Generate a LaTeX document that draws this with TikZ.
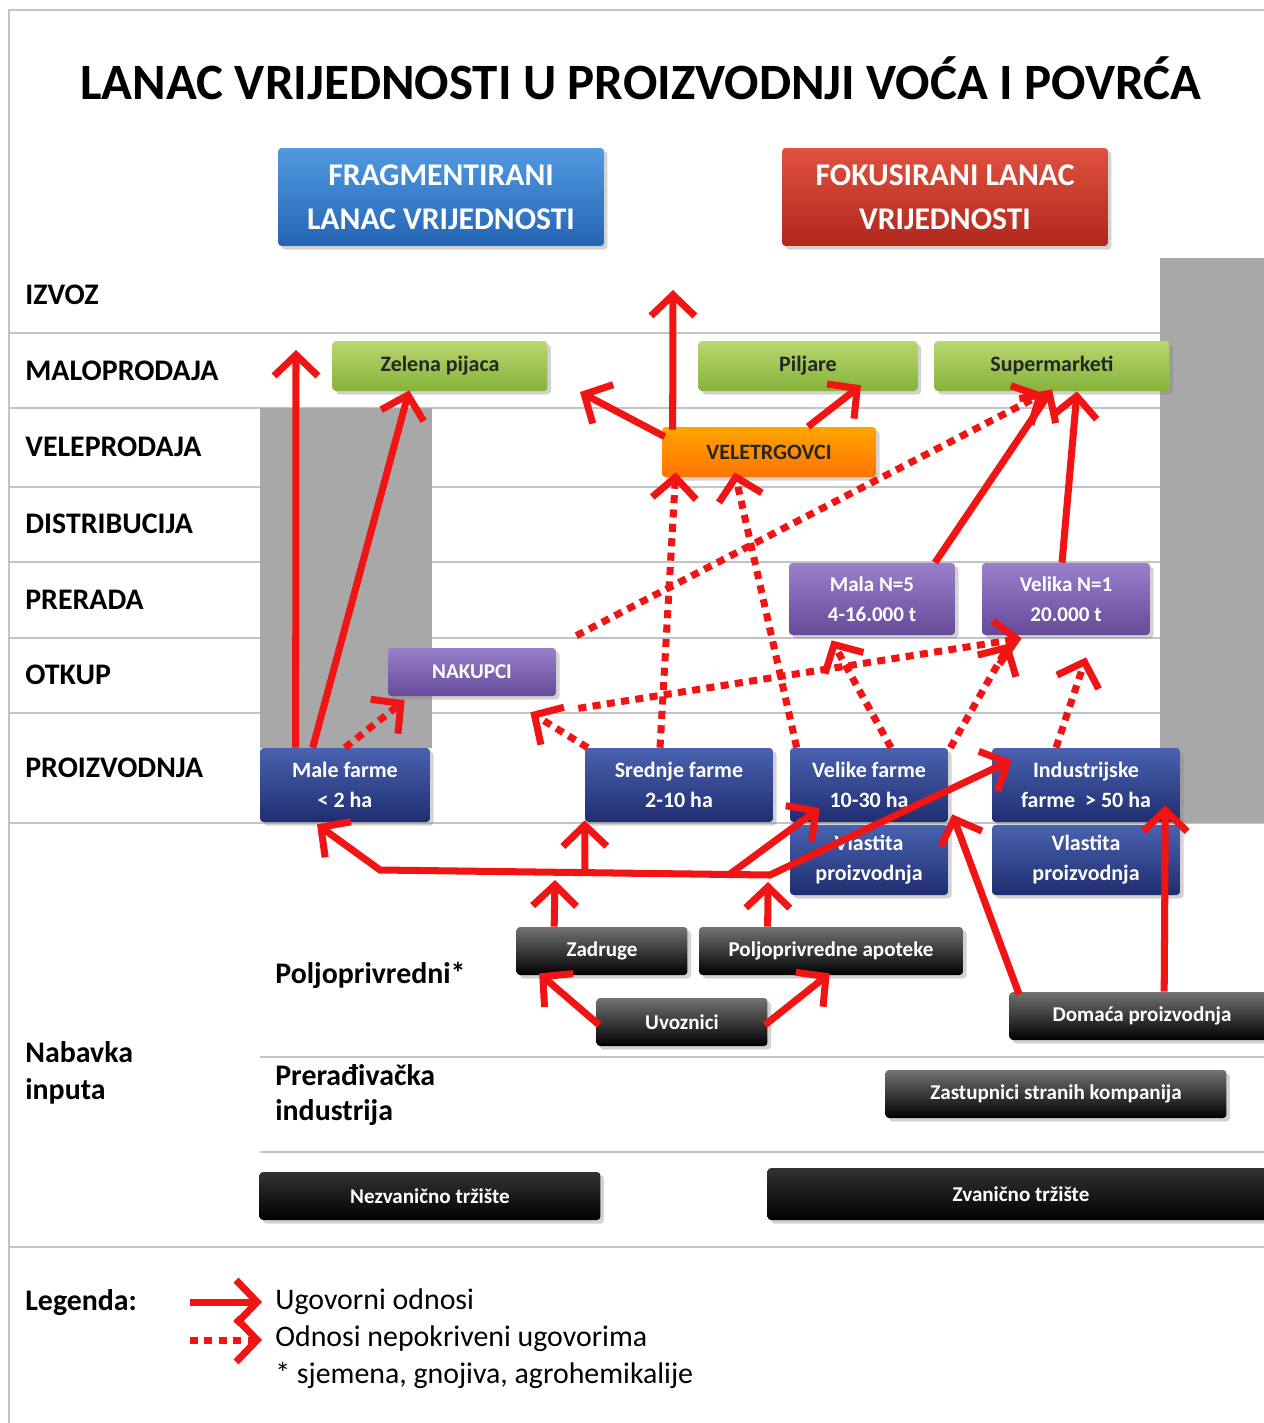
\documentclass[tikz,border=0pt]{standalone}
\usepackage{fontspec}
\setmainfont{Carlito}
\usetikzlibrary{arrows.meta,calc,shadows}

\definecolor{arrred}{HTML}{F01414}
\definecolor{gridgray}{HTML}{C4C4C4}
\definecolor{blockgray}{HTML}{A8A8A8}
\definecolor{farmtop}{HTML}{4A62B0}
\definecolor{farmbot}{HTML}{1F2D70}
\definecolor{purptop}{HTML}{9A80CC}
\definecolor{purpbot}{HTML}{67499A}
\definecolor{greentop}{HTML}{B8D870}
\definecolor{greenbot}{HTML}{86B23A}
\definecolor{hbluetop}{HTML}{519ADF}
\definecolor{hbluebot}{HTML}{2464B5}
\definecolor{hredtop}{HTML}{E0513F}
\definecolor{hredbot}{HTML}{B0271C}

\newcommand\titlefont{\fontsize{29}{34}\selectfont\bfseries}
\newcommand\headfont{\fontsize{18}{25}\selectfont\bfseries}
\newcommand\rowfont{\fontsize{17}{21}\selectfont\bfseries}
\newcommand\boxfont{\fontsize{12.5}{17}\selectfont\bfseries}
\newcommand\smallboxfont{\fontsize{12}{17}\selectfont\bfseries}
\newcommand\legfont{\fontsize{17}{21}\selectfont}

\tikzset{
  box/.style={rounded corners=2pt, inner sep=2pt, align=center, font=\boxfont,
    drop shadow={opacity=0.35, shadow xshift=2pt, shadow yshift=-2pt}},
  headbox/.style={box, font=\headfont, text=white, minimum width=6.52cm, minimum height=1.96cm},
  greenbox/.style={box, top color=greentop, bottom color=greenbot, text=black!85, minimum height=1.0cm},
  orangebox/.style={box, top color=orange!70!yellow, bottom color=orange!90!red, text=black!85, minimum height=1.0cm},
  purplebox/.style={box, font=\smallboxfont, top color=purptop, bottom color=purpbot, text=white},
  farmbox/.style={box, top color=farmtop, bottom color=farmbot, text=white, minimum height=1.48cm},
  darkbox/.style={box, font=\smallboxfont, top color=black!55, bottom color=black, text=white,
    minimum height=0.96cm},
  marketbox/.style={box, font=\smallboxfont, top color=black!80, bottom color=black, text=white},
  rowlabel/.style={anchor=west, font=\rowfont, inner sep=0pt},
  gridline/.style={draw=gridgray, line width=1.2pt},
  solidarr/.style={draw=arrred, line width=4pt, line join=miter,
    -{Straight Barb[length=12pt,width=25pt,line width=4pt]}},
  dotarr/.style={solidarr, dash pattern=on 4.6pt off 3.6pt},
}

\begin{document}
\begin{tikzpicture}[x=0.02cm, y=-0.02cm]
\useasboundingbox (0,0) rectangle (1264,1423);
\fill[white] (0,0) rectangle (1264,1423);
\draw[draw=gridgray, line width=1.5pt] (9,10) rectangle (1300,1460);

% row lines
\foreach \yy in {333,408,487,562,638,713}
  \draw[gridline] (10,\yy) -- (1160,\yy);
\draw[gridline] (10,823) -- (1264,823);
\draw[gridline] (260,1057) -- (1264,1057);
\draw[gridline] (260,1152) -- (1264,1152);
\draw[gridline] (10,1247) -- (1264,1247);

% gray blocks
\fill[blockgray] (260,408) rectangle (432,748);
\fill[blockgray] (1160,258) rectangle (1264,823);

% title and headers
\node[font=\titlefont] (title) at (641,78) {LANAC VRIJEDNOSTI U PROIZVODNJI VOĆA I POVRĆA};
\node[headbox, top color=hbluetop, bottom color=hbluebot] (frag) at (441,197)
  {FRAGMENTIRANI\\LANAC VRIJEDNOSTI};
\node[headbox, top color=hredtop, bottom color=hredbot] (fokus) at (945,197)
  {FOKUSIRANI LANAC\\VRIJEDNOSTI};

% row labels
\node[rowlabel] (lizvoz) at (25,295) {IZVOZ};
\node[rowlabel] (lmalo) at (25,371) {MALOPRODAJA};
\node[rowlabel] (lvele) at (25,447) {VELEPRODAJA};
\node[rowlabel] (ldist) at (25,524) {DISTRIBUCIJA};
\node[rowlabel] (lprer) at (25,600) {PRERADA};
\node[rowlabel] (lotk) at (25,675) {OTKUP};
\node[rowlabel] (lproiz) at (25,768) {PROIZVODNJA};
\node[rowlabel, align=left] (lnab) at (25,1073) {Nabavka\\inputa};
\node[rowlabel] (lpolj) at (275,975) {Poljoprivredni*};
\node[rowlabel, align=left, font=\fontsize{17}{20}\selectfont\bfseries] (lind) at (275,1095) {Prerađivačka\\industrija};

% retail and wholesale
\node[greenbox, minimum width=4.3cm] (zelena) at (440,366) {Zelena pijaca};
\node[greenbox, minimum width=4.38cm] (piljare) at (808,366) {Piljare};
\node[greenbox, minimum width=4.7cm] (super) at (1052,366) {Supermarketi};
\node[orangebox, minimum width=4.28cm] (veletr) at (769,452) {VELETRGOVCI};

% processing and buyers
\node[purplebox, minimum width=3.32cm, minimum height=1.44cm] (mala) at (872,599) {Mala N=5\\4-16.000 t};
\node[purplebox, minimum width=3.36cm, minimum height=1.44cm] (velika) at (1066,599) {Velika N=1\\20.000 t};
\node[purplebox, minimum width=3.36cm, minimum height=0.96cm] (nakupci) at (472,672) {NAKUPCI};

% farms
\node[farmbox, minimum width=3.4cm] (male) at (345,785) {Male farme\\< 2 ha};
\node[farmbox, minimum width=3.76cm] (srednje) at (679,785) {Srednje farme\\2-10 ha};
\node[farmbox, minimum width=3.16cm] (velike) at (869,785) {Velike farme\\10-30 ha};
\node[farmbox, minimum width=3.76cm] (indus) at (1086,785) {Industrijske\\farme\ \ > 50 ha};
\node[farmbox, minimum width=3.16cm, minimum height=1.4cm] (vlast1) at (869,860) {Vlastita\\proizvodnja};
\node[farmbox, minimum width=3.76cm, minimum height=1.4cm] (vlast2) at (1086,860) {Vlastita\\proizvodnja};

% inputs
\node[darkbox, minimum width=3.42cm] (zadruge) at (602,951) {Zadruge};
\node[darkbox, minimum width=5.28cm] (apoteke) at (831,951) {Poljoprivredne apoteke};
\node[darkbox, minimum width=3.42cm] (uvoz) at (682,1022) {Uvoznici};
\node[darkbox, minimum width=5.3cm] (domaca) at (1142,1016) {Domaća proizvodnja};
\node[darkbox, minimum width=6.82cm] (zastup) at (1056,1094) {Zastupnici stranih kompanija};
\node[marketbox, minimum width=6.82cm, minimum height=0.96cm] (nezv) at (430,1196) {Nezvanično tržište};
\node[marketbox, minimum width=10.14cm, minimum height=1.04cm] (zv) at (1021,1194) {Zvanično tržište};

% free ends
\coordinate (izv1) at (296,350);
\coordinate (izv2) at (673,290);
\coordinate (mp) at (580,392);
\coordinate (tl) at (380,870);
\coordinate (tr) at (770,875);
\coordinate (tj1) at (585,872);
\coordinate (tj2) at (730,874);
\coordinate (tjz) at (555,880);
\coordinate (tja) at (768,882);

% contracted relations
\draw[solidarr] ($(male.north west)+(36,0)$) -- (izv1);
\draw[solidarr] ($(male.north west)+(53,0)$) -- ($(zelena.south west)+(77,-1)$);
\draw[solidarr] ($(veletr.north west)+(11,3)$) -- (izv2);
\draw[solidarr] ($(veletr.north west)+(3,10)$) -- (mp);
\draw[solidarr] ($(veletr.north)+(39,0)$) -- ($(piljare.south)+(53,-6)$);
\draw[solidarr] ($(mala.north)+(63,0)$) -- ($(super.south)+(0,-2)$);
\draw[solidarr] ($(velika.north)+(-4,0)$) -- ($(super.south)+(25,0)$);
\draw[solidarr, {Straight Barb[length=12pt,width=25pt,line width=4pt]}-{Straight Barb[length=12pt,width=25pt,line width=4pt]}]
  ($(male.south)+(-28,2)$) -- (tl) -- (tr) -- ($(indus.west)+(20,-25)$);
\draw[solidarr] (tj1) -- ($(srednje.south west)+(0,-2)$);
\draw[solidarr] (tj2) -- ($(velike.west)+(30,23)$);
\draw[solidarr] ($(zadruge.north west)+(38,0)$) -- (tjz);
\draw[solidarr] ($(apoteke.north west)+(69,0)$) -- (tja);
\draw[solidarr] ($(uvoz.west)+(3,3)$) -- ($(zadruge.south west)+(23,-2)$);
\draw[solidarr] ($(uvoz.east)+(-3,3)$) -- ($(apoteke.south west)+(131,-2)$);
\draw[solidarr] ($(domaca.north west)+(10,3)$) -- ($(velike.south east)+(4,-8)$);
\draw[solidarr] ($(domaca.north west)+(155,0)$) -- ($(indus.south east)+(-15,-17)$);

% relations not covered by contracts
\draw[dotarr] (male.north) -- ($(nakupci.south west)+(17,4)$);
\draw[dotarr] ($(srednje.north west)+(3,0)$) -- ($(nakupci.south east)+(-26,16)$);
\draw[dotarr] ($(nakupci.south east)+(22,12)$) -- ($(velika.south west)+(40,3)$);
\draw[dotarr] ($(nakupci.north east)+(20,-12)$) -- ($(super.south)+(-8,2)$);
\draw[dotarr] ($(srednje.north)+(-19,0)$) -- ($(veletr.south west)+(14,-5)$);
\draw[dotarr] ($(velike.north west)+(7,0)$) -- ($(veletr.south west)+(73,-5)$);
\draw[dotarr] ($(velike.north)+(22,0)$) -- ($(mala.south west)+(43,5)$);
\draw[dotarr] ($(velike.north east)+(2,0)$) -- ($(velika.south west)+(28,8)$);
\draw[dotarr] ($(indus.north)+(-30,0)$) -- ($(velika.south)+(20,22)$);

% legend
\node[anchor=west, font=\legfont\bfseries, inner sep=0pt] (leg) at (25,1303) {Legenda:};
\coordinate (la1) at (190,1302);
\coordinate (la2) at (262,1302);
\coordinate (lb1) at (190,1340);
\coordinate (lb2) at (262,1340);
\draw[solidarr] (la1) -- (la2);
\draw[dotarr] (lb1) -- (lb2);
\node[anchor=west, font=\legfont, inner sep=0pt] (leg1) at (275,1302) {Ugovorni odnosi};
\node[anchor=west, font=\legfont, inner sep=0pt] (leg2) at (275,1339) {Odnosi nepokriveni ugovorima};
\node[anchor=west, font=\legfont, inner sep=0pt] (leg3) at (275,1375) {* sjemena, gnojiva, agrohemikalije};
\end{tikzpicture}
\end{document}
